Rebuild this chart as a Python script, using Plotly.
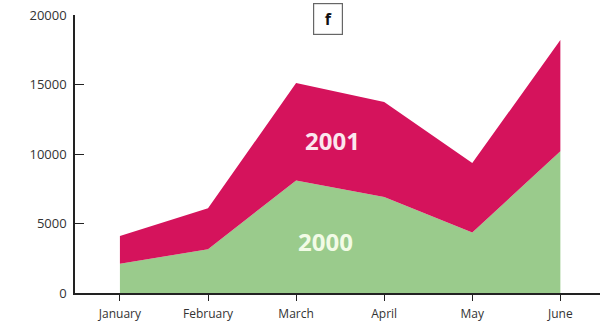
import plotly.graph_objects as go

months = ["January", "February", "March", "April", "May", "June"]
sales_2000 = [2100, 3150, 8100, 6900, 4350, 10200]
sales_2001 = [2000, 2950, 7000, 6850, 5000, 8000]
y_ticks = [0, 5000, 10000, 15000, 20000]
y_tick_labels = ["0", "5000", "10000", "15000", "20000"]

fig = go.Figure()
fig.add_trace(go.Scatter(x=months, y=sales_2000, stackgroup="s", mode="none",
                         fillcolor="#9acb8c", name="2000"))
fig.add_trace(go.Scatter(x=months, y=sales_2001, stackgroup="s", mode="none",
                         fillcolor="#d5135c", name="2001"))

fig.add_annotation(x="March", y=11000, text="<b>2001</b>", showarrow=False, xshift=36,
                   font=dict(family="Open Sans", size=24, color="#fbe6ee"))
fig.add_annotation(x="March", y=3700, text="<b>2000</b>", showarrow=False, xshift=29,
                   font=dict(family="Open Sans", size=24, color="#f2fbe6"))
fig.add_annotation(xref="paper", yref="paper", x=0.4825, y=0.985, text="<b>f</b>", showarrow=False,
                   font=dict(family="Open Sans", size=16, color="#111"),
                   bordercolor="#666", borderwidth=1.2, borderpad=4, bgcolor="white",
                   width=20, yanchor="middle")

fig.update_layout(
    width=600, height=325, margin=dict(l=75, r=0, t=15, b=32),
    paper_bgcolor="white", plot_bgcolor="white", showlegend=False,
    font=dict(family="Open Sans", size=12, color="#333"),
    xaxis=dict(range=[-0.51, 5.45], showline=True, linecolor="#222", linewidth=1.5,
               ticks="outside", ticklen=6, tickcolor="#222", showgrid=False, zeroline=False,
               tickfont=dict(size=12), ticklabelstandoff=3),
    yaxis=dict(range=[0, 20000], tickvals=y_ticks, ticktext=y_tick_labels,
               showline=True, linecolor="#222", linewidth=1.5,
               ticks="inside", ticklen=9, tickcolor="#222", showgrid=False, zeroline=False,
               ticklabelstandoff=4, tickfont=dict(size=13)),
)
fig.write_html("out.html")
